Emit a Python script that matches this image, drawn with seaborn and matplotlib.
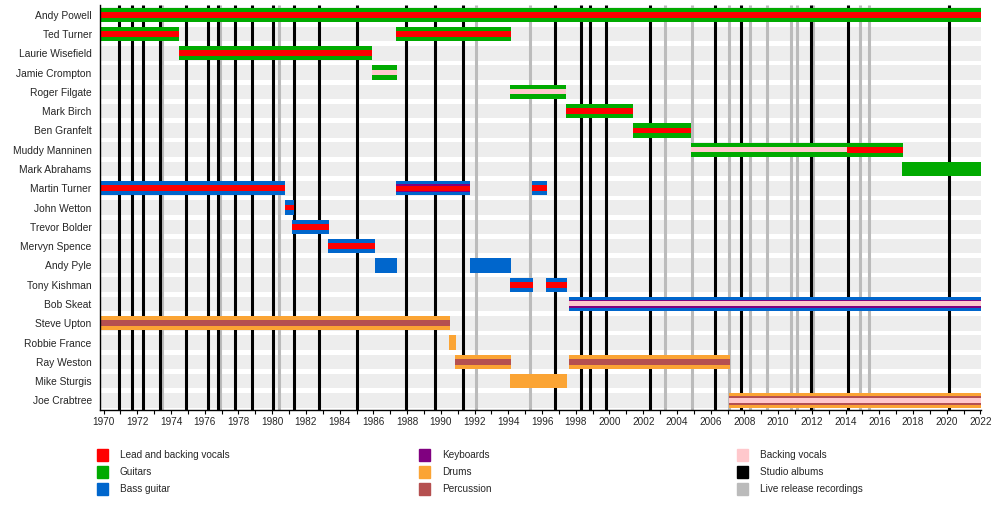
import numpy as np
import pandas as pd
import matplotlib
matplotlib.use("Agg")
import matplotlib.pyplot as plt
from matplotlib.patches import Rectangle
import seaborn as sns

# band members, top to bottom
members = ["Andy Powell", "Ted Turner", "Laurie Wisefield", "Jamie Crompton", "Roger Filgate",
           "Mark Birch", "Ben Granfelt", "Muddy Manninen", "Mark Abrahams", "Martin Turner",
           "John Wetton", "Trevor Bolder", "Mervyn Spence", "Andy Pyle", "Tony Kishman",
           "Bob Skeat", "Steve Upton", "Robbie France", "Ray Weston", "Mike Sturgis", "Joe Crabtree"]

# one entry per stint
stint_member = ["Andy Powell", "Ted Turner", "Ted Turner", "Laurie Wisefield", "Jamie Crompton",
                "Roger Filgate", "Mark Birch", "Ben Granfelt", "Muddy Manninen", "Muddy Manninen",
                "Mark Abrahams", "Martin Turner", "Martin Turner", "Martin Turner", "John Wetton",
                "Trevor Bolder", "Mervyn Spence", "Andy Pyle", "Andy Pyle", "Tony Kishman",
                "Tony Kishman", "Bob Skeat", "Steve Upton", "Robbie France", "Ray Weston",
                "Ray Weston", "Mike Sturgis", "Joe Crabtree"]
stint_start = [1969.79, 1969.79, 1987.37, 1974.45, 1985.90,
               1994.10, 1997.42, 2001.40, 2004.84, 2014.08,
               2017.36, 1969.79, 1987.37, 1995.38, 1980.74,
               1981.20, 1983.30, 1986.12, 1991.70, 1994.10,
               1996.21, 1997.58, 1969.79, 1990.48, 1990.83,
               1997.58, 1994.10, 2007.09]
stint_end = [2022.03, 1974.49, 1994.14, 1985.93, 1987.41,
             1997.44, 2001.42, 2004.86, 2014.08, 2017.38,
             2022.03, 1980.77, 1991.74, 1996.27, 1981.28,
             1983.34, 1986.12, 1987.43, 1994.14, 1995.44,
             1997.46, 2022.03, 1990.52, 1990.87, 1994.14,
             2007.13, 1997.46, 2022.03]
stint_role = ["guitar", "guitar", "guitar", "guitar", "guitar",
              "guitar", "guitar", "guitar", "guitar", "guitar",
              "guitar", "bass", "bass", "bass", "bass",
              "bass", "bass", "bass", "bass", "bass",
              "bass", "bass", "drums", "drums", "drums",
              "drums", "drums", "drums"]
stint_extra = ["lead", "lead", "lead", "lead", "backing",
               "backing", "lead", "lead", "backing", "lead",
               "", "lead", "lead_keys", "lead", "lead",
               "lead", "lead", "", "", "lead",
               "lead", "backing_keys", "perc", "", "perc",
               "perc", "", "perc_backing"]

studio_albums = [1970.89, 1971.66, 1972.32, 1973.36, 1974.87, 1976.20, 1976.81, 1977.78,
                 1978.78, 1980.03, 1981.28, 1982.76, 1985.02, 1987.92, 1989.65, 1991.31,
                 1996.77, 1998.31, 1998.83, 1999.79, 2002.40, 2006.26, 2007.80, 2011.92,
                 2014.16, 2020.15]
live_albums = [1973.46, 1976.91, 1980.39, 1992.06, 1995.30, 2003.29, 2004.90, 2007.09,
               2008.32, 2009.35, 2010.75, 2011.11, 2012.05, 2014.87, 2015.38]

legend_labels = ["Lead and backing vocals", "Guitars", "Bass guitar",
                 "Keyboards", "Drums", "Percussion",
                 "Backing vocals", "Studio albums", "Live release recordings"]

c = {"lead": "#ff0000", "guitar": "#00aa00", "bass": "#0066cc", "keys": "#800080",
     "drums": "#fba434", "perc": "#b55050", "backing": "#ffc8cc",
     "studio": "#000000", "live": "#bbbbbb"}
legend_colors = [c["lead"], c["guitar"], c["bass"], c["keys"], c["drums"], c["perc"],
                 c["backing"], c["studio"], c["live"]]

# inner stripes drawn over the main instrument colour
extras = {"": [],
          "lead": [(c["lead"], 0.3)],
          "backing": [(c["backing"], 0.26)],
          "lead_keys": [(c["keys"], 0.42), (c["lead"], 0.26)],
          "backing_keys": [(c["keys"], 0.42), (c["backing"], 0.26)],
          "perc": [(c["perc"], 0.3)],
          "perc_backing": [(c["perc"], 0.46), (c["backing"], 0.28)]}

df = pd.DataFrame({"member": stint_member, "start": stint_start, "end": stint_end,
                   "role": stint_role, "extra": stint_extra})
df["row"] = df["member"].map({m: i for i, m in enumerate(members)})

sns.set_style("white")
plt.rcParams["font.family"] = ["Liberation Sans", "DejaVu Sans"]

x0, x1 = 1969.79, 2022.03
fig = plt.figure(figsize=(10, 5.05), dpi=100)
ax = fig.add_axes([0.100, 0.188, 0.881, 0.802])

# grey row bands
bg = pd.DataFrame({"member": members, "until": [x1] * len(members)})
sns.barplot(data=bg, x="until", y="member", orient="y", color="#ededed",
            width=0.76, linewidth=0, saturation=1, ax=ax, zorder=0)

ax.vlines(live_albums, -0.5, 20.5, color=c["live"], lw=2.2, zorder=1)
ax.vlines(studio_albums, -0.5, 20.5, color=c["studio"], lw=2.2, zorder=1)

bar_h = 0.74
for _, r in df.iterrows():
    ax.barh(r["row"], r["end"] - r["start"], left=r["start"], height=bar_h,
            color=c[r["role"]], linewidth=0, zorder=3)
    for k, (col, h) in enumerate(extras[r["extra"]]):
        ax.barh(r["row"], r["end"] - r["start"], left=r["start"], height=h,
                color=col, linewidth=0, zorder=4 + k)

ax.set_xlim(x0, x1)
ax.set_ylim(20.5, -0.5)
ax.set_xlabel("")
ax.set_ylabel("")
ax.set_xticks(np.arange(1970, 2023, 2))
ax.set_xticks(np.arange(1970, 2023, 1), minor=True)
ax.tick_params(axis="x", which="both", direction="out", length=3, width=0.8,
               color="black", labelsize=7.2, pad=2, bottom=True)
ax.tick_params(axis="y", length=0, labelsize=7.4, pad=6)
for s in ["top", "right"]:
    ax.spines[s].set_visible(False)
for s in ["left", "bottom"]:
    ax.spines[s].set_color("black")
    ax.spines[s].set_linewidth(1.0)
    ax.spines[s].set_zorder(6)

# legend, three columns
col_x = [0.097, 0.419, 0.737]
row_y = [455, 472, 489]
for i, (lab, col) in enumerate(zip(legend_labels, legend_colors)):
    cx = col_x[i // 3]
    cy = 1 - row_y[i % 3] / 505
    fig.patches.append(Rectangle((cx, cy - 6 / 505), 0.011, 12 / 505, color=col,
                                 transform=fig.transFigure, figure=fig))
    fig.text(cx + 0.023, cy, lab, fontsize=7.2, va="center", ha="left")

fig.savefig("out.png", dpi=100)
